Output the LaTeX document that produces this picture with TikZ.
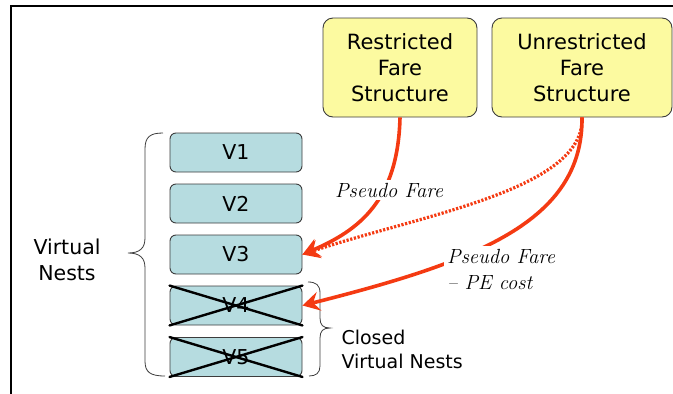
\documentclass[tikz,border=0pt]{standalone}
\usepackage{fontspec}
\newfontfamily\sansfont{DejaVu Sans}
\usetikzlibrary{arrows.meta}
\definecolor{fareyellow}{RGB}{252,250,160}
\definecolor{nestteal}{RGB}{182,220,224}
\definecolor{flowred}{RGB}{244,58,18}
\definecolor{edgegray}{RGB}{60,60,60}
\tikzset{
  farebox/.style={draw=edgegray, line width=0.9pt, fill=fareyellow, rounded corners=10pt,
    inner sep=0pt, align=center, font=\sansfont\fontsize{21}{26}\selectfont},
  nestbox/.style={draw=edgegray, line width=0.9pt, fill=nestteal, rounded corners=6pt,
    minimum width=132pt, minimum height=39pt, inner sep=0pt,
    font=\sansfont\fontsize{20.5}{24}\selectfont},
  flow/.style={draw=flowred, line width=3.6pt,
    -{Stealth[length=17pt,width=19pt,inset=6pt]}},
  dottedflow/.style={draw=flowred, line width=3.2pt, dash pattern=on 2.2pt off 1.6pt,
    -{Stealth[length=17pt,width=19pt,inset=6pt]}},
  flowlabel/.style={fill=white, inner sep=3pt, font=\itshape\fontsize{20.5}{26}\selectfont},
  bracetext/.style={font=\sansfont\fontsize{20.5}{26}\selectfont},
  bracepath/.style={draw=edgegray, line width=0.8pt},
  strike/.style={draw=black, line width=2.4pt, line cap=round}
}
\begin{document}
\begin{tikzpicture}[x=1pt,y=-1pt]
\useasboundingbox (0,0) rectangle (673,394);

% frame along the top and left edges
\draw[line width=2pt] (11,394) -- (11,6) -- (673,6);

% fare structures
\node[farebox, minimum width=154pt, minimum height=99pt] (rfs) at (400,67.5)
  {Restricted\\Fare\\Structure};
\node[farebox, minimum width=180pt, minimum height=99pt] (ufs) at (582,67.5)
  {Unrestricted\\Fare\\Structure};

% virtual nests
\node[nestbox] (v1) at (236,152.5) {V1};
\node[nestbox] (v2) at (236,203.5) {V2};
\node[nestbox] (v3) at (236,254.5) {V3};
\node[nestbox] (v4) at (236,305.5) {V4};
\node[nestbox] (v5) at (236,357) {V5};

% closed nests are struck through
\draw[strike] (v4.north west) -- (v4.south east);
\draw[strike] (v4.south west) -- (v4.north east);
\draw[strike] (v5.north west) -- (v5.south east);
\draw[strike] (v5.south west) -- (v5.north east);

% braces
\draw[bracepath] (163,133) .. controls (150,133) and (145,137) .. (145,149)
  -- (145,238) .. controls (145,248) and (140,253) .. (128,253)
  .. controls (140,253) and (145,258) .. (145,268)
  -- (145,361) .. controls (145,372) and (150,376) .. (165,376);
\node[bracetext, align=center] (vn) at (67,260) {Virtual\\Nests};

\draw[bracepath] (308,282) .. controls (316,282) and (320,285) .. (320,293)
  -- (320,318) .. controls (320,325) and (323,328) .. (330,328)
  .. controls (323,328) and (320,331) .. (320,338)
  -- (320,366) .. controls (320,373) and (316,376) .. (309,376);
\node[bracetext, font=\sansfont\fontsize{19}{24}\selectfont, align=left, anchor=west]
  (cvn) at (338,349) {Closed\\Virtual Nests};

% pseudo fare flows
\draw[dottedflow] (ufs.south) .. controls (585,190) and (420,215) .. (v3.east);
\draw[flow] (rfs.south) .. controls (398,200) and (360,230) .. (v3.east);
\draw[flow] (ufs.south) .. controls (583,222) and (475,262) .. (v4.east);

\node[flowlabel] (pf1) at (389,190) {Pseudo Fare};
\node[flowlabel, align=left, anchor=west] (pf2) at (444,269) {Pseudo Fare\\-- PE cost};
\end{tikzpicture}
\end{document}
